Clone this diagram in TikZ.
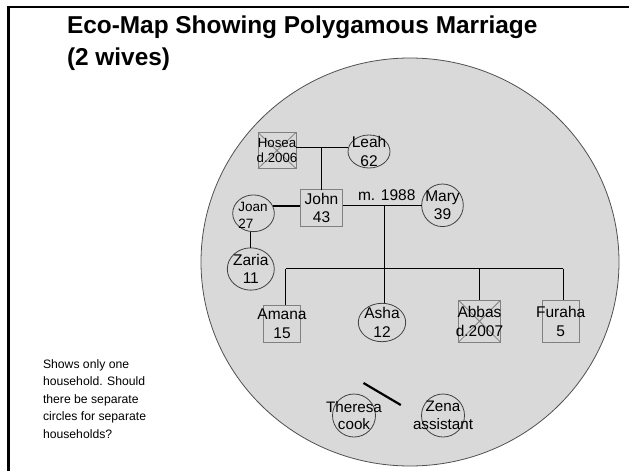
\documentclass[tikz,border=0pt]{standalone}
\usepackage{fontspec}
\setmainfont{Liberation Sans}
\usetikzlibrary{shapes.geometric,calc}
\definecolor{bgfill}{HTML}{D9D9D9}
\definecolor{rimgray}{HTML}{505050}
\definecolor{boxgray}{HTML}{808080}
\definecolor{ovalgray}{HTML}{404040}
\begin{document}
\begin{tikzpicture}[x=1pt,y=-1pt,
  every node/.style={inner sep=0pt,outer sep=0pt},
  box/.style={draw=boxgray,line width=0.9pt,rectangle},
  oval/.style={draw=ovalgray,line width=0.8pt,ellipse},
  lbl/.style={font=\fontsize{15.5}{18.6}\selectfont,align=center},
  small/.style={font=\fontsize{13.3}{15.6}\selectfont,align=center},
  conn/.style={line width=1pt,black},
  xline/.style={draw=boxgray,line width=0.8pt}]
\useasboundingbox (0,0) rectangle (629,471);
% frame
\coordinate (fc) at (8.7,7);
\draw[line width=2.6pt] (fc |- 0,471) -- (fc) -- (629,7);
% title
\node[anchor=base west,font=\fontsize{24.4}{31.7}\selectfont\bfseries] (title1) at (67,33.3) {Eco-Map Showing Polygamous Marriage};
\node[anchor=base west,font=\fontsize{24.4}{31.7}\selectfont\bfseries] (title2) at (67,65) {(2 wives)};
% household circle
\node[ellipse,draw=rimgray,line width=0.8pt,fill=bgfill,minimum width=418pt,minimum height=408pt] (house) at (410,262) {};
% people
\node[box,minimum width=38pt,minimum height=36pt] (hosea) at (277,150.5) {};
\draw[xline] (hosea.north west) -- (hosea.south east) (hosea.north east) -- (hosea.south west);
\node[small] (hoseaT) at (hosea.center) {Hosea\\d.2006};
\node[oval,minimum width=42pt,minimum height=33pt] (leah) at (369,151.5) {};
\node[lbl] (leahT) at (leah.center) {Leah\\62};
\node[box,minimum width=42.4pt,minimum height=36.6pt] (john) at (321.5,208) {};
\node[lbl] (johnT) at (john.center) {John\\43};
\node[oval,minimum width=41.6pt,minimum height=36.7pt] (joan) at (253.5,213.3) {};
\node[font=\fontsize{13.5}{16.7}\selectfont,align=left,anchor=west] (joanT) at (238.4,215.5) {Joan\\27};
\node[oval,minimum width=41.6pt,minimum height=42.6pt] (mary) at (442.5,205.3) {};
\node[lbl] (maryT) at (mary.center) {Mary\\39};
\node[oval,minimum width=47pt,minimum height=42.3pt] (zaria) at (250.8,269) {};
\node[lbl] (zariaT) at (zaria.center) {Zaria\\11};
\node[box,minimum width=37.4pt,minimum height=37.3pt] (amana) at (282,323.7) {};
\node[lbl] (amanaT) at (amana.center) {Amana\\15};
\node[oval,minimum width=47.4pt,minimum height=38.4pt] (asha) at (382,322.5) {};
\node[lbl] (ashaT) at (asha.center) {Asha\\12};
\node[box,minimum width=42.4pt,minimum height=42.3pt] (abbas) at (479.5,321.2) {};
\draw[xline] (abbas.north west) -- (abbas.south east) (abbas.north east) -- (abbas.south west);
\node[lbl] (abbasT) at (abbas.center) {Abbas\\d.2007};
\node[box,minimum width=36.7pt,minimum height=42.3pt] (furaha) at (560.7,321.2) {};
\node[lbl] (furahaT) at (furaha.center) {Furaha\\5};
\node[oval,minimum width=43pt,minimum height=43pt] (theresa) at (354,415.5) {};
\node[lbl,font=\fontsize{15.2}{17.5}\selectfont] (theresaT) at (theresa.center) {Theresa\\cook};
\node[oval,minimum width=43pt,minimum height=43pt] (zena) at (443,415.5) {};
\node[lbl,font=\fontsize{15.2}{17.5}\selectfont] (zenaT) at (zena.center) {Zena\\assistant};
% connectors
\coordinate (hl) at (321.6,147.7);
\draw[conn] (hosea.east |- hl) -- (leah.west |- hl);
\draw[conn] (john.north) -- (john.north |- hl);
\draw[line width=2.2pt] (joan.20) -- (john.west |- joan.20);
\draw[conn] (john.east |- mary.west) -- (mary.west);
\node[anchor=base west,font=\fontsize{15.5}{18.6}\selectfont] (marr) at (358,200) {m. 1988};
\coordinate (sib) at (384.3,268.5);
\coordinate (bA) at (285.7,268.5);
\coordinate (bB) at (479.3,268.5);
\coordinate (bF) at (563.3,268.5);
\draw[conn] (sib |- mary.west) -- (sib);
\draw[conn] (bA) -- (bF);
\draw[conn] (bA) -- (bA |- amana.north);
\draw[conn] (sib) -- (sib |- asha.north);
\draw[conn] (bB) -- (bB |- abbas.north);
\draw[conn] (bF) -- (bF |- furaha.north);
\draw[conn] (joan.south -| zaria.north) -- (zaria.north);
% slash between staff
\coordinate (s1) at (363.5,383);
\coordinate (s2) at (400.8,405);
\draw[line width=2.2pt] (s1) -- (s2);
% note (base anchor = last line's baseline)
\node[anchor=base west,font=\fontsize{12.2}{17.5}\selectfont,align=left] (note) at (43,438) {Shows only one\\household. Should\\there be separate\\circles for separate\\households?};
\end{tikzpicture}
\end{document}
